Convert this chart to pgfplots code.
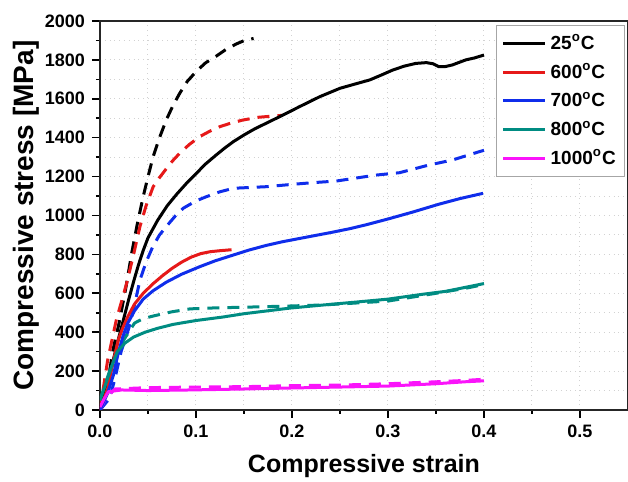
\documentclass[border=0pt]{standalone}
\usepackage{pgfplots}
\pgfplotsset{compat=1.18}
\usepackage{fontspec}
\setmainfont{Liberation Sans}
\definecolor{cBlack}{RGB}{0,0,0}
\definecolor{cRed}{RGB}{230,25,25}
\definecolor{cBlue}{RGB}{15,45,235}
\definecolor{cTeal}{RGB}{0,140,130}
\definecolor{cMag}{RGB}{250,20,250}
\begin{document}
\begin{tikzpicture}
\useasboundingbox (-50pt,-36pt) rectangle (264pt,205pt);
\begin{axis}[
  scale only axis, width=264pt, height=194.5pt,
  xmin=0, xmax=0.55, ymin=0, ymax=2000,
  xtick={0,0.1,...,0.5}, ytick={0,200,...,2000},
  minor x tick num=1, minor y tick num=1,
  xtick pos=bottom, ytick pos=left,
  tick align=outside,
  major tick length=4pt, minor tick length=2pt,
  every tick/.style={black, line width=0.8pt},
  grid=both,
  major grid style={gray!35, dotted, line width=0.5pt},
  minor grid style={gray!35, dotted, line width=0.5pt},
  axis line style={black!85, line width=1pt},
  /pgf/number format/assume math mode=true,
  ticklabel style={font=\fontsize{9}{10}\selectfont\bfseries},
  xticklabel style={/pgf/number format/fixed, /pgf/number format/fixed zerofill, /pgf/number format/precision=1},
  yticklabel style={/pgf/number format/set thousands separator={}},
  scaled x ticks=false,
  xlabel={Compressive strain},
  ylabel={Compressive stress [MPa]},
  xlabel style={font=\fontsize{12.5}{14}\selectfont\bfseries, at={(axis description cs:0.5,0)}, anchor=center, yshift=-28pt},
  ylabel style={font=\fontsize{14}{16}\selectfont\bfseries, at={(axis description cs:0,0.5)}, anchor=center, yshift=37pt},
  legend style={at={(0.995,0.99)}, anchor=north east, draw=gray!70, line width=0.6pt,
    font=\fontsize{9.5}{11}\selectfont\bfseries, row sep=1.5pt, inner sep=2.5pt},
  legend cell align=left,
  legend image code/.code={\draw[#1, line width=1.5pt] (0pt,0pt) -- (21pt,0pt);},
  every axis plot/.append style={line width=1.5pt, line join=round},
]
% dashed curves
\addplot[cBlack, dash pattern=on 6pt off 4pt, forget plot] coordinates {
(0,0) (0.005,90) (0.01,200) (0.0135,308) (0.02,450) (0.027,630) (0.033,806) (0.039,960) (0.045,1097) (0.05,1200) (0.0554,1303) (0.062,1400) (0.069,1491) (0.076,1565) (0.083,1628) (0.091,1690) (0.1005,1742) (0.11,1785) (0.121,1819) (0.131,1853) (0.142,1882) (0.152,1903) (0.16,1910)};
\addplot[cRed, dash pattern=on 6pt off 4pt, forget plot] coordinates {
(0,0) (0.008,257) (0.017,463) (0.0277,650) (0.035,800) (0.0416,943) (0.048,1050) (0.0554,1148) (0.062,1195) (0.069,1240) (0.076,1283) (0.083,1320) (0.093,1365) (0.104,1406) (0.115,1435) (0.125,1457) (0.137,1476) (0.149,1491) (0.165,1505) (0.182,1512) (0.19,1515)};
\addplot[cBlue, dash pattern=on 6pt off 4pt, forget plot] coordinates {
(0,0) (0.01,60) (0.015,150) (0.022,300) (0.03,420) (0.036,540) (0.0416,668) (0.048,760) (0.055,840) (0.062,900) (0.069,943) (0.078,995) (0.0866,1037) (0.1,1075) (0.111,1097) (0.125,1122) (0.139,1140) (0.173,1148) (0.2,1160) (0.222,1169) (0.246,1177) (0.27,1195) (0.288,1208) (0.312,1220) (0.343,1260) (0.367,1285) (0.395,1328) (0.4,1335)};
\addplot[cTeal, dash pattern=on 6pt off 4pt, forget plot] coordinates {
(0,50) (0.01,200) (0.018,300) (0.026,370) (0.036,447) (0.045,470) (0.057,485) (0.075,505) (0.094,520) (0.12,525) (0.163,530) (0.2,535) (0.232,540) (0.26,548) (0.3,560) (0.35,600) (0.38,625) (0.4,645)};
\addplot[cMag, dash pattern=on 6pt off 4pt, forget plot] coordinates {
(0,0) (0.006,60) (0.0156,108) (0.05,115) (0.1,118) (0.15,120) (0.2,125) (0.25,128) (0.3,135) (0.35,145) (0.38,152) (0.4,158)};
% solid curves
\addplot[cBlack] coordinates {
(0,0) (0.005,80) (0.01,180) (0.02,380) (0.03,570) (0.035,660) (0.04,745) (0.045,820) (0.05,885) (0.06,975) (0.07,1050) (0.08,1110) (0.09,1165) (0.1,1215) (0.11,1265) (0.121,1311) (0.13,1347) (0.139,1380) (0.15,1414) (0.161,1445) (0.173,1474) (0.19,1515) (0.208,1560) (0.229,1611) (0.25,1654) (0.265,1675) (0.281,1697) (0.293,1722) (0.305,1748) (0.317,1768) (0.329,1782) (0.34,1786) (0.347,1780) (0.353,1765) (0.36,1766) (0.367,1774) (0.381,1800) (0.39,1810) (0.4,1825)};
\addlegendentry{25\textsuperscript{o}C}
\addplot[cRed] coordinates {
(0,0) (0.008,110) (0.013,230) (0.019,360) (0.024,425) (0.029,480) (0.036,545) (0.045,600) (0.055,648) (0.065,690) (0.075,728) (0.085,760) (0.095,786) (0.105,804) (0.115,814) (0.125,819) (0.137,824)};
\addlegendentry{600\textsuperscript{o}C}
\addplot[cBlue] coordinates {
(0,0) (0.008,87) (0.014,180) (0.019,293) (0.024,380) (0.029,447) (0.036,510) (0.045,570) (0.055,612) (0.069,657) (0.085,698) (0.104,737) (0.12,767) (0.139,797) (0.155,822) (0.173,846) (0.19,865) (0.208,882) (0.24,912) (0.26,932) (0.277,952) (0.3,982) (0.326,1018) (0.353,1058) (0.375,1087) (0.399,1114)};
\addlegendentry{700\textsuperscript{o}C}
\addplot[cTeal] coordinates {
(0,50) (0.005,120) (0.012,223) (0.018,300) (0.026,344) (0.035,375) (0.047,400) (0.06,420) (0.076,440) (0.088,450) (0.1,460) (0.128,478) (0.15,495) (0.198,524) (0.233,540) (0.267,555) (0.3,570) (0.336,595) (0.36,610) (0.38,630) (0.4,650)};
\addlegendentry{800\textsuperscript{o}C}
\addplot[cMag] coordinates {
(0,15) (0.004,55) (0.0087,94) (0.0225,103) (0.05,100) (0.094,103) (0.15,108) (0.198,113) (0.25,118) (0.3,123) (0.35,135) (0.38,145) (0.4,150)};
\addlegendentry{1000\textsuperscript{o}C}
\end{axis}
\end{tikzpicture}
\end{document}
